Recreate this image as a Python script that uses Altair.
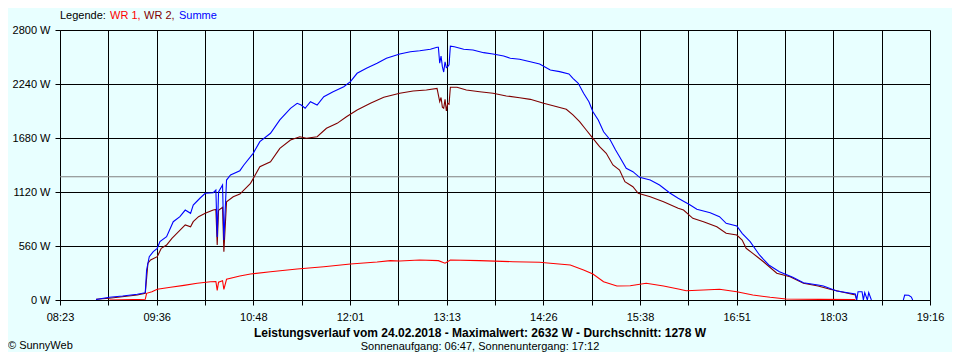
import altair as alt
import pandas as pd

# ---------------- data ----------------
x_domain = ["08:23", "19:16"]
tick_labels = ["08:23", "09:36", "10:48", "12:01", "13:13", "14:26", "15:38", "16:51", "18:03", "19:16"]
y_ticks = [0, 560, 1120, 1680, 2240, 2800]
average_w = 1278

series_names = ["WR 1", "WR 2", "Summe"]
series_colors = ["#FF0000", "#800000", "#0000FF"]

wr1_time = ["09:00", "09:27", "09:28", "09:32", "09:36", "09:46", "09:56", "10:06", "10:16", "10:20",
            "10:21", "10:22", "10:25", "10:26", "10:28", "10:38", "10:46", "11:01", "11:21", "11:41",
            "12:01", "12:21", "12:31", "12:38", "12:53", "13:07", "13:12", "13:16", "13:38", "14:03",
            "14:23", "14:31", "14:46", "14:56", "15:03", "15:11", "15:21", "15:31", "15:43", "15:56",
            "16:08", "16:13", "16:26", "16:38", "16:51", "17:03", "17:16", "17:28", "17:53", "18:20"]
wr1_w = [0, 7, 69, 86, 111, 132, 152, 173, 190, 192,
         100, 185, 200, 110, 215, 249, 270, 293, 321, 345,
         373, 394, 408, 404, 415, 408, 381, 415, 408, 397,
         391, 381, 363, 311, 270, 190, 145, 148, 173, 145,
         111, 96, 104, 111, 86, 52, 28, 10, 7, 5]

wr2_time = ["08:50", "09:00", "09:21", "09:27", "09:29", "09:31", "09:36", "09:39", "09:43", "09:47",
            "09:52", "09:57", "10:01", "10:03", "10:07", "10:12", "10:18", "10:20", "10:21", "10:22",
            "10:25", "10:26", "10:28", "10:33", "10:38", "10:46", "10:53", "11:01", "11:08", "11:16",
            "11:23", "11:28", "11:36", "11:43", "11:51", "11:58", "12:06", "12:16", "12:26", "12:38",
            "12:48", "12:58", "13:06", "13:08", "13:09", "13:10", "13:11", "13:12", "13:13", "13:14",
            "13:15", "13:16", "13:21", "13:28", "13:38", "13:48", "13:58", "14:08", "14:16", "14:26",
            "14:36", "14:43", "14:48", "14:53", "14:58", "15:03", "15:08", "15:13", "15:18", "15:23",
            "15:27", "15:33", "15:37", "15:46", "15:56", "16:07", "16:11", "16:18", "16:26", "16:36",
            "16:43", "16:51", "16:55", "16:58", "17:03", "17:11", "17:21", "17:31", "17:41", "17:52",
            "18:01", "18:20", "18:21"]
wr2_w = [7, 18, 52, 69, 381, 415, 449, 536, 570, 640,
         708, 778, 760, 812, 864, 899, 933, 940, 570, 930,
         960, 500, 1019, 1071, 1099, 1210, 1382, 1434, 1573, 1659,
         1693, 1677, 1693, 1781, 1832, 1901, 1970, 2040, 2102, 2144,
         2167, 2178, 2195, 2057, 2100, 2000, 1988, 2080, 1960, 2040,
         2030, 2206, 2206, 2178, 2160, 2144, 2116, 2098, 2081, 2040,
         2005, 1978, 1919, 1849, 1763, 1677, 1590, 1521, 1400, 1348,
         1227, 1175, 1107, 1071, 1019, 951, 933, 847, 812, 760,
         692, 674, 622, 536, 484, 397, 277, 242, 173, 145,
         111, 52, 0]

summe_time = ["08:50", "09:00", "09:10", "09:21", "09:27", "09:28", "09:30", "09:33", "09:36", "09:38",
              "09:43", "09:48", "09:53", "09:57", "10:01", "10:03", "10:08", "10:12", "10:18", "10:20",
              "10:21", "10:22", "10:25", "10:26", "10:28", "10:31", "10:38", "10:41", "10:48", "10:53",
              "11:01", "11:08", "11:16", "11:21", "11:24", "11:27", "11:31", "11:36", "11:41", "11:48",
              "11:56", "12:01", "12:06", "12:13", "12:21", "12:28", "12:38", "12:46", "12:53", "13:01",
              "13:06", "13:07", "13:08", "13:09", "13:10", "13:11", "13:12", "13:13", "13:14", "13:15",
              "13:16", "13:19", "13:26", "13:33", "13:41", "13:48", "13:56", "14:01", "14:08", "14:16",
              "14:23", "14:31", "14:38", "14:45", "14:48", "14:52", "14:56", "15:00", "15:03", "15:07",
              "15:11", "15:16", "15:20", "15:23", "15:28", "15:33", "15:38", "15:46", "15:53", "16:01",
              "16:07", "16:16", "16:21", "16:31", "16:38", "16:43", "16:51", "16:55", "17:01", "17:08",
              "17:15", "17:23", "17:33", "17:41", "17:52", "17:56", "18:06", "18:20", "18:21", "18:22",
              "18:25", "18:26", "18:27", "18:29", "18:30", "18:32"]
summe_w = [5, 28, 41, 59, 76, 311, 449, 501, 536, 605,
           656, 812, 864, 933, 899, 985, 1055, 1107, 1113, 1140,
           653, 1120, 1193, 622, 1244, 1296, 1341, 1400, 1521, 1642,
           1729, 1867, 1988, 2040, 2022, 1988, 2056, 2022, 2108, 2160,
           2212, 2264, 2351, 2403, 2455, 2507, 2551, 2575, 2585, 2600,
           2621, 2621, 2455, 2530, 2420, 2364, 2470, 2410, 2420, 2440,
           2632, 2627, 2600, 2593, 2565, 2551, 2530, 2507, 2496, 2471,
           2447, 2385, 2368, 2344, 2299, 2247, 2144, 2056, 1953, 1867,
           1745, 1659, 1556, 1486, 1366, 1331, 1272, 1244, 1193, 1107,
           1055, 985, 941, 905, 864, 795, 767, 692, 605, 467,
           363, 293, 235, 179, 156, 145, 93, 62, 0, 86,
           86, 0, 76, 0, 76, 0]

summe_late_time = ["18:56", "18:57", "19:00", "19:02", "19:03"]
summe_late_w = [0, 50, 49, 31, 0]

legend_title = "Legende:"
title_text = "Leistungsverlauf vom 24.02.2018 - Maximalwert: 2632 W - Durchschnitt: 1278 W"
subtitle_text = "Sonnenaufgang: 06:47, Sonnenuntergang: 17:12"
copyright_text = "© SunnyWeb"

# ---------------- build ----------------
def to_min(s):
    h, m = s.split(":")
    return int(h) * 60 + int(m)


def frame(name, times, vals, seg):
    return pd.DataFrame({"min": [to_min(t) for t in times], "w": vals,
                         "serie": name, "seg": seg})


df_wr1 = frame("WR 1", wr1_time, wr1_w, "a")
df_wr2 = frame("WR 2", wr2_time, wr2_w, "a")
df_sum = pd.concat([frame("Summe", summe_time, summe_w, "a"),
                    frame("Summe", summe_late_time, summe_late_w, "b")])

x0, x1 = to_min(x_domain[0]), to_min(x_domain[1])
step = (x1 - x0) / 18
x_vals = [x0 + k * step for k in range(19)]
lab_arr = []
for i, l in enumerate(tick_labels):
    lab_arr.append(l)
    if i < len(tick_labels) - 1:
        lab_arr.append("")
label_expr = "[" + ",".join(f"'{l}'" for l in lab_arr) + f"][round((datum.value-{x0})/{step})]"

FONT = "Liberation Sans"
x_enc = alt.X("min:Q", scale=alt.Scale(domain=[x0, x1], nice=False, zero=False),
              axis=alt.Axis(values=x_vals, labelExpr=label_expr, grid=True, gridColor="black",
                            gridOpacity=1, gridWidth=1, tickColor="black", tickSize=5,
                            domainColor="black", labelFont=FONT, labelFontSize=11,
                            labelColor="black", labelPadding=6, labelFlush=False,
                            labelOverlap=False, title=None))
y_enc = alt.Y("w:Q", scale=alt.Scale(domain=[0, 2800], nice=False),
              axis=alt.Axis(values=y_ticks, labelExpr="datum.value + ' W'", grid=True,
                            gridColor="black", gridOpacity=1, gridWidth=1, tickColor="black",
                            tickSize=5, domainColor="black", labelFont=FONT, labelFontSize=11,
                            labelColor="black", labelPadding=5, title=None))
color = dict(zip(series_names, series_colors))


def line(df, name):
    return alt.Chart(df).mark_line(strokeWidth=1.1, color=color[name], clip=True).encode(
        x=x_enc, y=y_enc, detail="seg:N", order="min:Q")


avg = alt.Chart(pd.DataFrame({"w": [average_w]})).mark_rule(color="#808080", strokeWidth=1).encode(y="w:Q")


def txt(text, x, y, col="black", align="left", bold=False, size=11):
    return alt.Chart(pd.DataFrame({"t": [text]})).mark_text(
        align=align, baseline="middle", font=FONT, fontSize=size, color=col,
        fontWeight="bold" if bold else "normal").encode(
        text="t:N", x=alt.value(x), y=alt.value(y))


legend_layers = [
    txt(legend_title, 0, -14),
    txt("WR 1,", 50, -14, series_colors[0]),
    txt("WR 2,", 84, -14, series_colors[1]),
    txt("Summe", 119, -14, series_colors[2]),
]

chart = alt.layer(
    avg,
    line(df_wr1, "WR 1"),
    line(df_wr2, "WR 2"),
    line(df_sum, "Summe"),
    *legend_layers,
    txt(title_text, 420, 303, align="center", bold=True, size=12),
    txt(subtitle_text, 420, 317, align="center"),
    txt(copyright_text, -52, 316),
).properties(
    width=870, height=270,
    autosize=alt.AutoSizeParams(type="none"),
    padding={"left": 52, "top": 22, "right": 22, "bottom": 52},
    background="#E8FFFF",
).configure_view(stroke=None)

chart.save("out.html", embed_options={"renderer": "svg", "actions": False})
